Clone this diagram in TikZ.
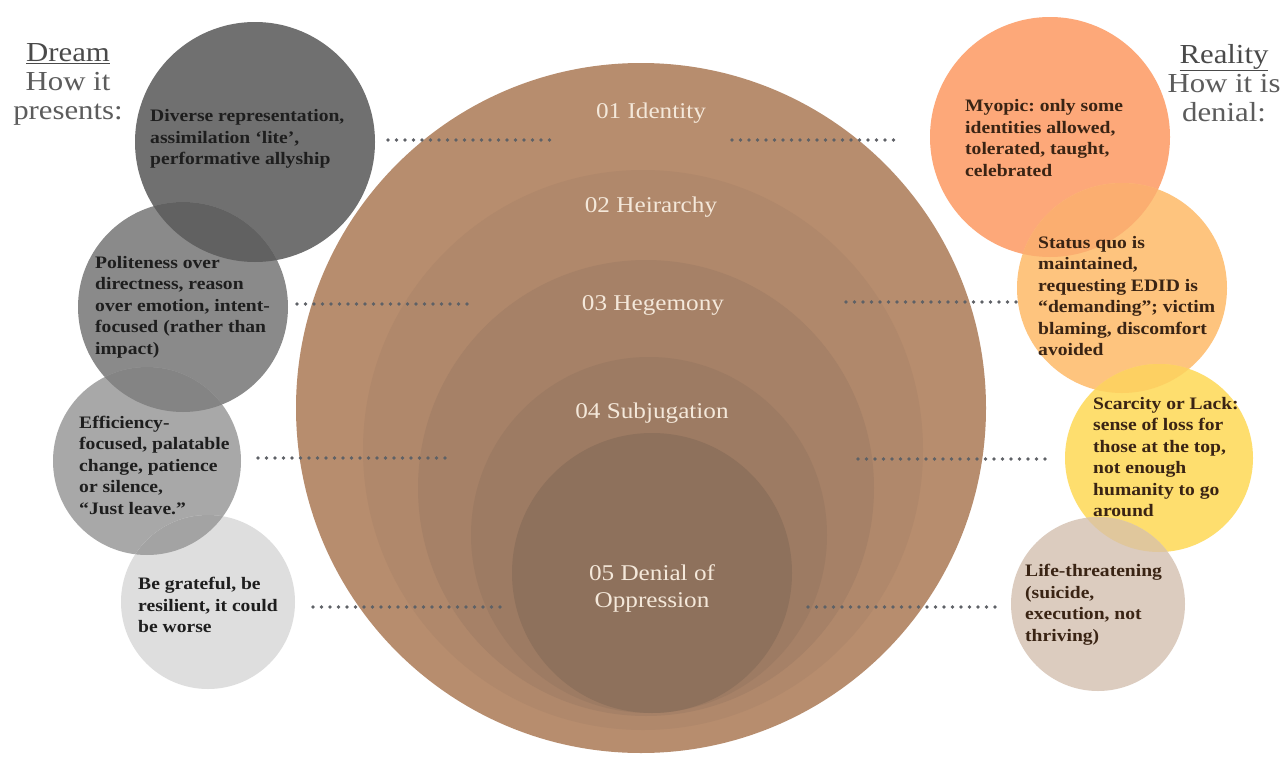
\documentclass[tikz,border=0pt]{standalone}
\usepackage{fontspec}
\setmainfont{Liberation Serif}[FakeStretch=1.12]
\frenchspacing
\definecolor{bigA}{HTML}{B78D6E}
\definecolor{bigB}{HTML}{B0886B}
\definecolor{bigC}{HTML}{A68167}
\definecolor{bigD}{HTML}{9D7B63}
\definecolor{bigE}{HTML}{8E715C}
\definecolor{gA}{HTML}{707070}
\definecolor{gB}{HTML}{8A8A8A}
\definecolor{gC}{HTML}{A8A8A8}
\definecolor{gD}{HTML}{DEDEDE}
\definecolor{gAB}{HTML}{616161}
\definecolor{gBC}{HTML}{848484}
\definecolor{gCD}{HTML}{A3A3A3}
\definecolor{oA}{HTML}{FDA879}
\definecolor{oB}{HTML}{FEC47E}
\definecolor{oC}{HTML}{FEDE6E}
\definecolor{oD}{HTML}{DCCCBF}
\definecolor{oAB}{HTML}{FBAE70}
\definecolor{oBC}{HTML}{FDD062}
\definecolor{oCD}{HTML}{E0C79C}
\definecolor{cream}{HTML}{F4E8DA}
\definecolor{lefttext}{HTML}{1E1E1E}
\definecolor{righttext}{HTML}{3A2414}
\definecolor{headgray}{HTML}{5C5C5C}
\definecolor{headdark}{HTML}{4A4A4A}
\definecolor{dotgray}{HTML}{5E6166}
\begin{document}
\begin{tikzpicture}[x=1pt,y=-1pt,
  disc/.style={circle, inner sep=0pt, draw=none, minimum size=#1},
  lefttxt/.style={anchor=west, align=left, inner sep=0pt, text=lefttext,
    font=\fontsize{17.5}{21.5}\selectfont\bfseries},
  righttxt/.style={anchor=west, align=left, inner sep=0pt, text=righttext,
    font=\fontsize{17.5}{21.5}\selectfont\bfseries},
  layerlbl/.style={align=center, inner sep=0pt, text=cream,
    font=\fontsize{22.5}{27}\selectfont},
  headtxt/.style={align=center, inner sep=0pt, text=headgray,
    font=\fontsize{27.5}{29}\selectfont},
  dotline/.style={draw=dotgray, line width=3.6pt, line cap=round, dash pattern=on 0pt off 8.5pt}]
\useasboundingbox (0,0) rectangle (1283,771);
\fill[white] (0,0) rectangle (1283,771);

% central nested circles
\node[disc=690pt, fill=bigA] (L1) at (641,408) {};
\node[disc=560pt, fill=bigB] (L2) at (643,450) {};
\node[disc=456pt, fill=bigC] (L3) at (646,488) {};
\node[disc=356pt, fill=bigD] (L4) at (649,535) {};
\node[disc=280pt, fill=bigE] (L5) at (652,573) {};

% left circles
\node[disc=240pt, fill=gA] (dA) at (255,142) {};
\node[disc=210pt, fill=gB] (dB) at (183,307) {};
\node[disc=188pt, fill=gC] (dC) at (147,461) {};
\node[disc=174pt, fill=gD] (dD) at (208,602) {};
\begin{scope}\clip (dA.center) circle[radius=120pt]; \fill[gAB] (dB.center) circle[radius=105pt];\end{scope}
\begin{scope}\clip (dB.center) circle[radius=105pt]; \fill[gBC] (dC.center) circle[radius=94pt];\end{scope}
\begin{scope}\clip (dC.center) circle[radius=94pt]; \fill[gCD] (dD.center) circle[radius=87pt];\end{scope}

% right circles
\node[disc=240pt, fill=oA] (rA) at (1050,137) {};
\node[disc=210pt, fill=oB] (rB) at (1122,288) {};
\node[disc=188pt, fill=oC] (rC) at (1159,458) {};
\node[disc=174pt, fill=oD] (rD) at (1098,604) {};
\begin{scope}\clip (rA.center) circle[radius=120pt]; \fill[oAB] (rB.center) circle[radius=105pt];\end{scope}
\begin{scope}\clip (rB.center) circle[radius=105pt]; \fill[oBC] (rC.center) circle[radius=94pt];\end{scope}
\begin{scope}\clip (rC.center) circle[radius=94pt]; \fill[oCD] (rD.center) circle[radius=87pt];\end{scope}

% dotted connectors
\coordinate (a1) at (388,140); \coordinate (a2) at (557,140);
\coordinate (a3) at (732,140); \coordinate (a4) at (899,140);
\coordinate (b1) at (297,304); \coordinate (b2) at (467,304);
\coordinate (b3) at (846,302); \coordinate (b4) at (1017,302);
\coordinate (c1) at (258,458); \coordinate (c2) at (450,458);
\coordinate (c3) at (858,459); \coordinate (c4) at (1048,459);
\coordinate (e1) at (313,607); \coordinate (e2) at (500,607);
\coordinate (e3) at (808,607); \coordinate (e4) at (998,607);
\draw[dotline] (a1) -- (a2);
\draw[dotline] (a3) -- (a4);
\draw[dotline] (b1) -- (b2);
\draw[dotline] (b3) -- (b4);
\draw[dotline] (c1) -- (c2);
\draw[dotline] (c3) -- (c4);
\draw[dotline] (e1) -- (e2);
\draw[dotline] (e3) -- (e4);

% layer labels
\node[layerlbl] (n1) at (651,113) {01 Identity};
\node[layerlbl] (n2) at (651,207) {02 Heirarchy};
\node[layerlbl] (n3) at (653,305) {03 Hegemony};
\node[layerlbl] (n4) at (652,413) {04 Subjugation};
\node[layerlbl] (n5) at (652,588) {05 Denial of\\Oppression};

% left texts
\node[lefttxt] (tA) at (150,139) {Diverse representation,\\assimilation ‘lite’,\\performative allyship};
\node[lefttxt] (tB) at (95,307) {Politeness over\\directness, reason\\over emotion, intent-\\focused (rather than\\impact)};
\node[lefttxt] (tC) at (79,465) {Efficiency-\\focused, palatable\\change, patience\\or silence,\\“Just leave.”};
\node[lefttxt] (tD) at (138,605) {Be grateful, be\\resilient, it could\\be worse};

% right texts
\node[righttxt] (uA) at (965,138) {Myopic: only some\\identities allowed,\\tolerated, taught,\\celebrated};
\node[righttxt] (uB) at (1038,296) {Status quo is\\maintained,\\requesting EDID is\\“demanding”; victim\\blaming, discomfort\\avoided};
\node[righttxt] (uC) at (1093,457) {Scarcity or Lack:\\sense of loss for\\those at the top,\\not enough\\humanity to go\\around};
\node[righttxt] (uD) at (1025,605) {Life-threatening\\(suicide,\\execution, not\\thriving)};

% headers
\node[headtxt] (hL) at (68,84) {\textcolor{headdark}{\underline{Dream}}\\How it\\presents:};
\node[headtxt] (hR) at (1224,83) {\textcolor{headdark}{\underline{Reality}}\\How it is\\denial:};
\end{tikzpicture}
\end{document}
